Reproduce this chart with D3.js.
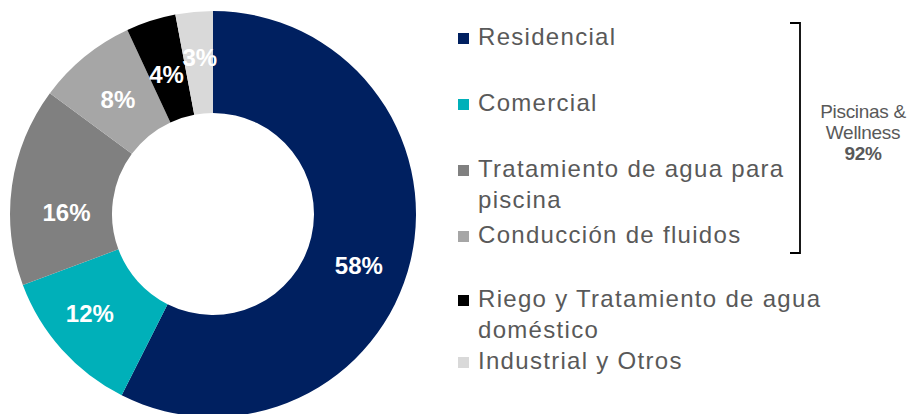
<!DOCTYPE html>
<html>
<head>
<meta charset="utf-8">
<script src="https://cdn.jsdelivr.net/npm/d3@7"></script>
<style>
  html, body { margin: 0; padding: 0; background: #fff; }
  svg { display: block; font-family: "Liberation Sans", Arial, sans-serif; }
</style>
</head>
<body>
<svg id="chart" width="921" height="414"></svg>
<script>
'use strict';

// chart data
const categories = ['Residencial', 'Comercial', 'Tratamiento de agua para piscina',
    'Conducción de fluidos', 'Riego y Tratamiento de agua doméstico', 'Industrial y Otros'];
const legendLines = [['Residencial'], ['Comercial'], ['Tratamiento de agua para', 'piscina'],
    ['Conducción de fluidos'], ['Riego y Tratamiento de agua', 'doméstico'], ['Industrial y Otros']];
const shares = [58, 12, 16, 8, 4, 3];
const colors = ['#002060', '#00B0B9', '#808080', '#A6A6A6', '#000000', '#D9D9D9'];
const bracketLabel = ['Piscinas &', 'Wellness'];
const bracketValue = '92%';

const CX = 213;
const CY = 214;
const OUTER = 203;
const INNER = 101;
const TEXT_COLOR = '#595959';
const LINE_HEIGHT = 31;
// small nudges [dx, dy] so the % labels sit where the original put them
const LABEL_NUDGE = [[-2, 16], [-10, -2], [4, 20], [1, 3], [0, 5], [1, -5]];

const svg = d3.select('#chart');
const data = categories.map((name, i) => ({name, value: shares[i], color: colors[i], lines: legendLines[i]}));

// donut
const pie = d3.pie().sort(null).value(d => d.value);
const arc = d3.arc().innerRadius(INNER).outerRadius(OUTER);
const arcs = pie(data);

const g = svg.append('g').attr('transform', `translate(${CX},${CY})`);

g.selectAll('path.slice')
    .data(arcs)
    .enter()
    .append('path')
    .attr('class', 'slice')
    .attr('d', arc)
    .attr('fill', d => d.data.color);

g.selectAll('text.pct')
    .data(arcs)
    .enter()
    .append('text')
    .attr('class', 'pct')
    .attr('transform', (d, i) => {
        const [x, y] = arc.centroid(d);
        return `translate(${x + LABEL_NUDGE[i][0]},${y + LABEL_NUDGE[i][1]})`;
    })
    .attr('text-anchor', 'middle')
    .attr('dy', '0.36em')
    .attr('fill', '#fff')
    .attr('font-weight', 'bold')
    .attr('font-size', 24)
    .text(d => d.data.value + '%');

// legend: first four items evenly spaced, the last two stacked below
const yTop = d3.scalePoint().domain(categories.slice(0, 4)).range([45, 243]);
let yNext = 307;
data.forEach((d, i) => {
    if (i < 4) {
        d.y = yTop(d.name);
    } else {
        d.y = yNext;
        yNext += d.lines.length * LINE_HEIGHT;
    }
});

const legend = svg.append('g').attr('class', 'legend');
const items = legend.selectAll('g.item')
    .data(data)
    .enter()
    .append('g')
    .attr('class', 'item')
    .attr('transform', d => `translate(458,${d.y})`);

items.append('rect')
    .attr('x', 0)
    .attr('y', -12)
    .attr('width', 11)
    .attr('height', 11)
    .attr('fill', d => d.color);

items.append('text')
    .attr('fill', TEXT_COLOR)
    .attr('font-size', 24)
    .attr('letter-spacing', 1.3)
    .selectAll('tspan')
    .data(d => d.lines)
    .enter()
    .append('tspan')
    .attr('x', 20)
    .attr('y', (l, j) => j * LINE_HEIGHT)
    .text(l => l);

// bracket grouping the pool & wellness segments
const bracket = d3.path();
bracket.moveTo(790, 23);
bracket.lineTo(800, 23);
bracket.lineTo(800, 253);
bracket.lineTo(790, 253);
svg.append('path')
    .attr('d', bracket.toString())
    .attr('fill', 'none')
    .attr('stroke', '#000')
    .attr('stroke-width', 1.8);

const side = svg.append('text')
    .attr('text-anchor', 'middle')
    .attr('fill', TEXT_COLOR)
    .attr('font-size', 19)
    .attr('letter-spacing', -0.3);
bracketLabel.forEach((l, j) => {
    side.append('tspan').attr('x', 863).attr('y', 118 + j * 21).text(l);
});
side.append('tspan')
    .attr('x', 863)
    .attr('y', 160)
    .attr('font-weight', 'bold')
    .text(bracketValue);
</script>
</body>
</html>
